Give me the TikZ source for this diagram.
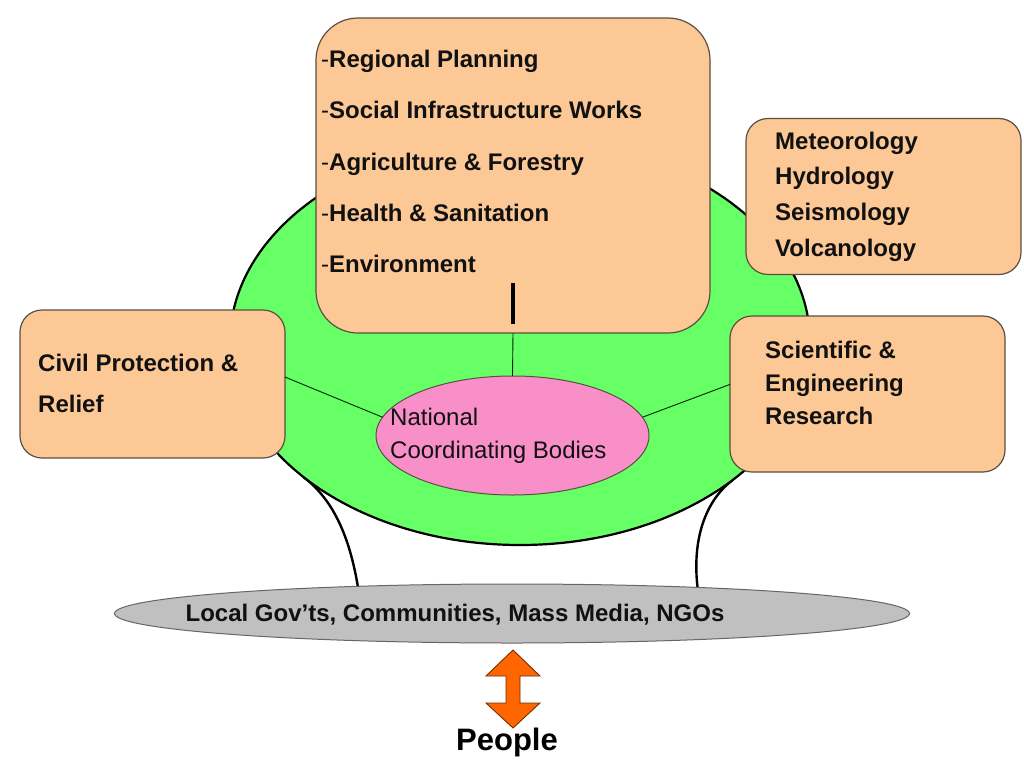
\documentclass[tikz,border=0pt]{standalone}
\usepackage{fontspec}
\setmainfont{Liberation Sans}
\usepackage{xcolor}
\usetikzlibrary{positioning,calc,backgrounds,shapes.geometric}
\definecolor{cPeach}{HTML}{FBC896}
\definecolor{cHub}{HTML}{66FF66}
\definecolor{cNcb}{HTML}{F88FC8}
\definecolor{cGov}{HTML}{C0C0C0}
\definecolor{cArrow}{HTML}{FF6600}
\definecolor{cRim}{HTML}{5E4E3E}
\definecolor{cInk}{HTML}{111111}
\tikzset{
  dm/box/.style   ={draw=cRim, line width=1.2pt, fill=cPeach, rounded corners=22pt,
                    inner sep=0pt, outer sep=0pt},
  dm/hub/.style   ={ellipse, draw=black, line width=2.2pt, fill=cHub, inner sep=0pt,
                    outer sep=0pt, minimum width=580pt, minimum height=406pt},
  dm/ncb/.style   ={ellipse, draw=cRim, line width=1pt, fill=cNcb, inner sep=0pt,
                    outer sep=0pt, minimum width=273pt, minimum height=119pt},
  dm/gov/.style   ={ellipse, draw=black!60, line width=1pt, fill=cGov, inner sep=0pt,
                    outer sep=0pt, minimum width=795pt, minimum height=59pt},
  dm/list/.style  ={font=\fontsize{24}{#1}\selectfont\bfseries, align=left,
                    anchor=west, inner sep=0pt, text=cInk},
  dm/plain/.style ={font=\fontsize{24}{#1}\selectfont, align=left,
                    anchor=west, inner sep=0pt, text=cInk},
  dm/link/.style  ={line width=0.9pt, black!85!green},
  dm/leg/.style   ={line width=2.4pt, black},
  dm/bar/.style   ={line width=4.6pt, black},
  dm/arrow/.style ={fill=cArrow, draw=cArrow!45!black, line width=0.9pt, line join=miter},
  dm/people/.style={font=\fontsize{31}{36}\selectfont\bfseries, inner sep=0pt}
}

\begin{document}
\begin{tikzpicture}[x=1pt, y=-1pt]
  \useasboundingbox (0,0) rectangle (1024,768);

  % --- green hub and the local level ---
  \node[dm/hub] (hub) at (520,342) {};
  \node[dm/gov] (gov) at (512,613.5) {};
  \node[dm/list=30, anchor=center] (govtxt) at (455,615)
       {Local Gov’ts, Communities, Mass Media, NGOs};

  % --- legs (behind everything) ---
  \begin{scope}[on background layer]
    \draw[dm/leg] (hub.212.3) .. controls (335,501) and (350,540) .. (gov.170.5);
    \draw[dm/leg] (hub.327.7) .. controls (705,501) and (692,540) .. (gov.8.5);
  \end{scope}

  % --- sector boxes ---
  \node[dm/box, minimum width=394pt, minimum height=315pt, rounded corners=42pt]
       (plan) at (513,175.5) {};
  \node[dm/list=51.25] (plantxt) at (321,161.5)
       {\textmd{-}Regional Planning\\\textmd{-}Social Infrastructure Works\\
        \textmd{-}Agriculture \& Forestry\\\textmd{-}Health \& Sanitation\\
        \textmd{-}Environment};

  \node[dm/box, minimum width=275pt, minimum height=156pt] (obs) at (883.5,196.5) {};
  \node[dm/list=35.7] (obstxt) at (775,196.5)
       {Meteorology\\Hydrology\\Seismology\\Volcanology};

  \node[dm/box, minimum width=265pt, minimum height=148pt] (civil) at (152.5,384) {};
  \node[dm/list=41] (civiltxt) at (38,383.5) {Civil Protection \&\\Relief};

  \node[dm/box, minimum width=275pt, minimum height=156pt] (eng) at (867.5,394) {};
  \node[dm/list=33] (engtxt) at (765,383)
       {Scientific \&\\Engineering\\Research};

  % --- national coordinating bodies ---
  \node[dm/ncb] (ncb) at (512.5,435.5) {};
  \node[dm/plain=33] (ncbtxt) at (390,435.5) {National\\Coordinating Bodies};

  % --- links ---
  \draw[dm/link] (plan.south) -- (ncb.north);
  \draw[dm/link] (civil.3.5) -- (ncb.172);
  \draw[dm/link] (eng.176) -- (ncb.8);
  \draw[dm/bar] ($(plan.south)+(0,-50)$) -- ($(plan.south)+(0,-9)$);

  % --- people ---
  \draw[dm/arrow] (513,650) -- (540,676) -- (520,676) -- (520,703) -- (540,703)
       -- (513,728) -- (486,703) -- (506,703) -- (506,676) -- (486,676) -- cycle;
  \node[dm/people] (people) at (507,742) {People};
\end{tikzpicture}
\end{document}
